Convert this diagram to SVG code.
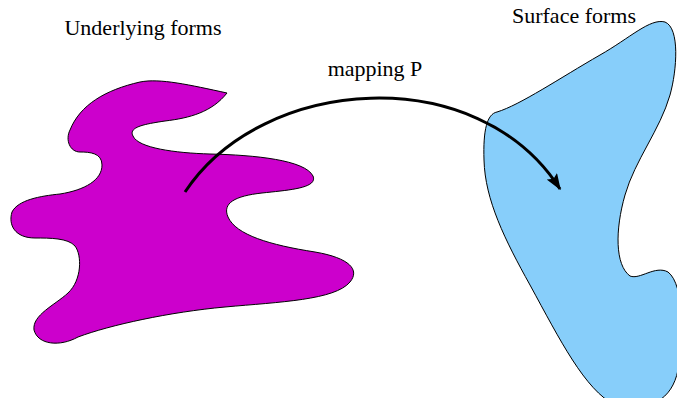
<svg xmlns="http://www.w3.org/2000/svg" width="677" height="398" viewBox="0 0 677 398">
<style>
.lbl{font-family:'Liberation Serif','DejaVu Serif',serif;font-size:22px;fill:#000;text-anchor:middle}
.blob{stroke:#000;stroke-width:1}
</style>
<defs>
<marker id="ah" markerWidth="5.5" markerHeight="4" refX="5" refY="2" orient="auto" markerUnits="strokeWidth" viewBox="0 0 5.5 4">
<path d="M0,0 L5.5,2 L0,4 L1,2 Z" fill="#000"/>
</marker>
</defs>
<rect width="677" height="398" fill="#fff"/>
<g id="underlying">
<path class="blob" fill="#CC00CC" d="M227,93 C212,112 190,118 165,121 C145,124 128,127 133,136 C138,148 175,153 210,154 C255,155 305,160 313,176 C318,188 290,190 262,193 C235,196 222,203 228,217 C236,235 270,245 315,252 C350,258 360,270 350,282 C335,300 280,302 225,307 C170,312 110,325 78,337 C60,347 38,345 34,330 C32,315 55,305 68,293 C82,280 82,255 75,246 C68,238 50,238 35,238 C15,238 8,225 12,212 C18,200 40,196 60,194 C85,190 102,180 102,165 C102,153 90,152 80,152 C70,152 65,140 70,130 C80,105 105,90 140,82 C160,78 190,85 227,93 Z"/>
<text class="lbl" x="143" y="35">Underlying forms</text>
</g>
<g id="surface">
<path class="blob" fill="#87CEFA" d="M497,112 C520,105 560,78 600,55 C630,38 650,18 665,22 C680,28 677,70 670,95 C660,130 635,160 625,195 C615,230 615,265 630,276 C640,280 655,265 668,272 C685,285 683,340 678,370 C672,400 650,412 615,405 C585,390 560,340 530,285 C505,240 485,200 484,160 C483,130 487,114 497,112 Z"/>
<text class="lbl" x="574" y="23">Surface forms</text>
</g>
<g id="connectors">
<path d="M185,192 C262,75 478,60 560,189" fill="none" stroke="#000" stroke-width="3" marker-end="url(#ah)"/>
<text class="lbl" x="375" y="76">mapping P</text>
</g>
</svg>
